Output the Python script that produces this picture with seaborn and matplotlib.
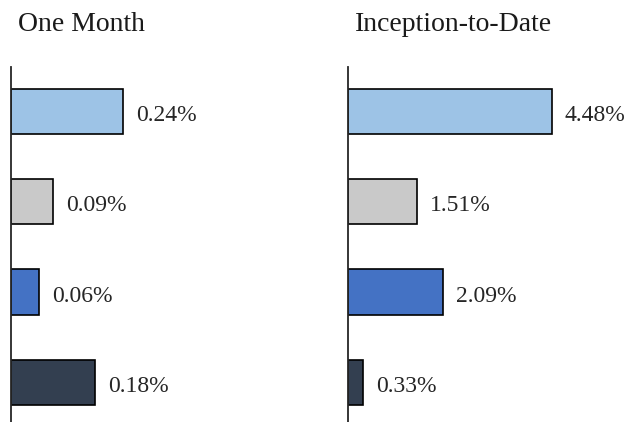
import matplotlib
matplotlib.use("Agg")
import matplotlib.pyplot as plt
import seaborn as sns
import pandas as pd

categories = ["Series 1", "Series 2", "Series 3", "Series 4"]
one_month = [0.24, 0.09, 0.06, 0.18]
inception = [4.48, 1.51, 2.09, 0.33]
colors = ["#9DC3E6", "#C9C9C9", "#4472C4", "#333F50"]
titles = ["One Month", "Inception-to-Date"]

sns.set_style("white")
plt.rcParams["font.family"] = ["Liberation Serif", "DejaVu Serif"]

W, H = 639, 422
fig = plt.figure(figsize=(W / 100, H / 100), dpi=100)

def fx(px):
    return px / W

def fy(py):
    return 1 - py / H

top_px, bot_px = 67, 422
panels = [
    (one_month, 11, 300, 466.0),
    (inception, 348, 630, 45.5),
]

for (vals, x0, x1, ppu), title in zip(panels, titles):
    ax = fig.add_axes([fx(x0), fy(bot_px), fx(x1 - x0), (bot_px - top_px) / H])
    df = pd.DataFrame({"cat": categories, "val": vals})
    sns.barplot(data=df, y="cat", x="val", hue="cat", palette=colors,
                saturation=1, orient="h", width=0.5, edgecolor="black",
                linewidth=1.2, legend=False, ax=ax)
    ax.set_xlim(0, (x1 - x0) / ppu)
    span = (bot_px - top_px) / 90.4
    ax.set_ylim(-0.49 + span, -0.49)
    for i, v in enumerate(vals):
        ax.annotate(f"{v:.2f}%", xy=(v, i), xytext=(13, -4),
                    textcoords="offset pixels",
                    va="center", ha="left", fontsize=17, color="#262626")
    ax.set_xticks([])
    ax.set_yticks([])
    ax.set_xlabel("")
    ax.set_ylabel("")
    for s in ["top", "right", "bottom"]:
        ax.spines[s].set_visible(False)
    ax.spines["left"].set_color("#262626")
    ax.spines["left"].set_linewidth(1.3)
    fig.text(fx(x0 + 7), fy(31), title, ha="left", va="baseline",
             fontsize=20, color="#1a1a1a")

fig.savefig("out.png", dpi=100)
